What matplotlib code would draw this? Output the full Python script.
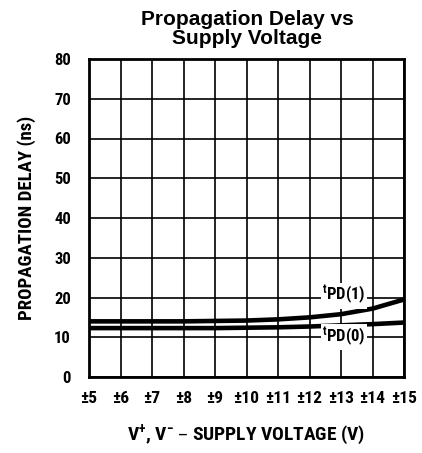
import matplotlib
matplotlib.use("Agg")
import matplotlib.pyplot as plt
from matplotlib import font_manager

voltage = [5, 6, 7, 8, 9, 10, 11, 12, 13, 14, 15]
tpd1 = [14.0, 14.0, 14.0, 14.0, 14.1, 14.2, 14.5, 15.0, 15.8, 17.2, 19.5]
tpd0 = [12.3, 12.3, 12.3, 12.3, 12.3, 12.4, 12.5, 12.7, 13.0, 13.3, 13.7]
xtick_labels = ["±5", "±6", "±7", "±8", "±9", "±10", "±11", "±12", "±13", "±14", "±15"]
yticks = [0, 10, 20, 30, 40, 50, 60, 70, 80]

available = {f.name for f in font_manager.fontManager.ttflist}
prefs = ["Liberation Sans Narrow", "Roboto Condensed", "DejaVu Sans Condensed",
         "Open Sans Condensed", "Noto Sans Condensed", "Arial Narrow"]
cond = [p for p in prefs if p in available]
narrow = (cond[:1] + ["DejaVu Sans"]) if cond else ["DejaVu Sans"]
scale = 1.0 if cond else 0.85

plt.rcParams["mathtext.default"] = "regular"

fig = plt.figure(figsize=(4.22, 4.53), dpi=100)
ax = fig.add_axes([89/422, 1-377/453, 315/422, 318/453])

ax.plot(voltage, tpd1, color="black", lw=3.3, solid_capstyle="butt", zorder=3)
ax.plot(voltage, tpd0, color="black", lw=3.3, solid_capstyle="butt", zorder=3)

ax.set_xlim(5, 15)
ax.set_ylim(0, 80)
ax.set_xticks(voltage)
ax.set_yticks(yticks)
ax.set_xticklabels(xtick_labels, family=narrow, fontweight="heavy", fontsize=12.5 * scale,
                   fontstretch="condensed")
ax.set_yticklabels([str(v) for v in yticks], family=narrow, fontweight="heavy", fontsize=12 * scale,
                   fontstretch="condensed")
ax.tick_params(length=0)
ax.tick_params(axis="y", pad=13)
ax.tick_params(axis="x", pad=10)
ax.grid(True, color="black", lw=1.2)
ax.set_axisbelow(True)
for s in ax.spines.values():
    s.set_linewidth(2.0)

bbox = dict(facecolor="white", edgecolor="none", pad=1.0)
lfs = 12 * scale
ax.text(13.1, 20.4, r"$^{t}$PD(1)", family=narrow, fontweight="bold", fontsize=lfs,
        fontstretch="condensed", ha="center", va="center", bbox=bbox, zorder=4)
ax.text(13.1, 10.0, r"$^{t}$PD(0)", family=narrow, fontweight="bold", fontsize=lfs,
        fontstretch="condensed", ha="center", va="center", bbox=bbox, zorder=4)

ax.set_ylabel("PROPAGATION DELAY (ns)", family=narrow, fontweight="bold", fontsize=13.5 * scale,
              fontstretch="condensed", labelpad=13)
ax.set_xlabel(r"V$^{+}$, V$^{-}$ – SUPPLY VOLTAGE (V)", family=narrow, fontweight="bold",
              fontsize=14 * scale, fontstretch="condensed", labelpad=12)

fig.text(247/422, 1-29/453, "Propagation Delay vs\nSupply Voltage", ha="center", va="center",
         family=["Liberation Sans", "DejaVu Sans"], fontweight="bold", fontsize=15,
         linespacing=0.95)

fig.savefig("out.png", dpi=100)
